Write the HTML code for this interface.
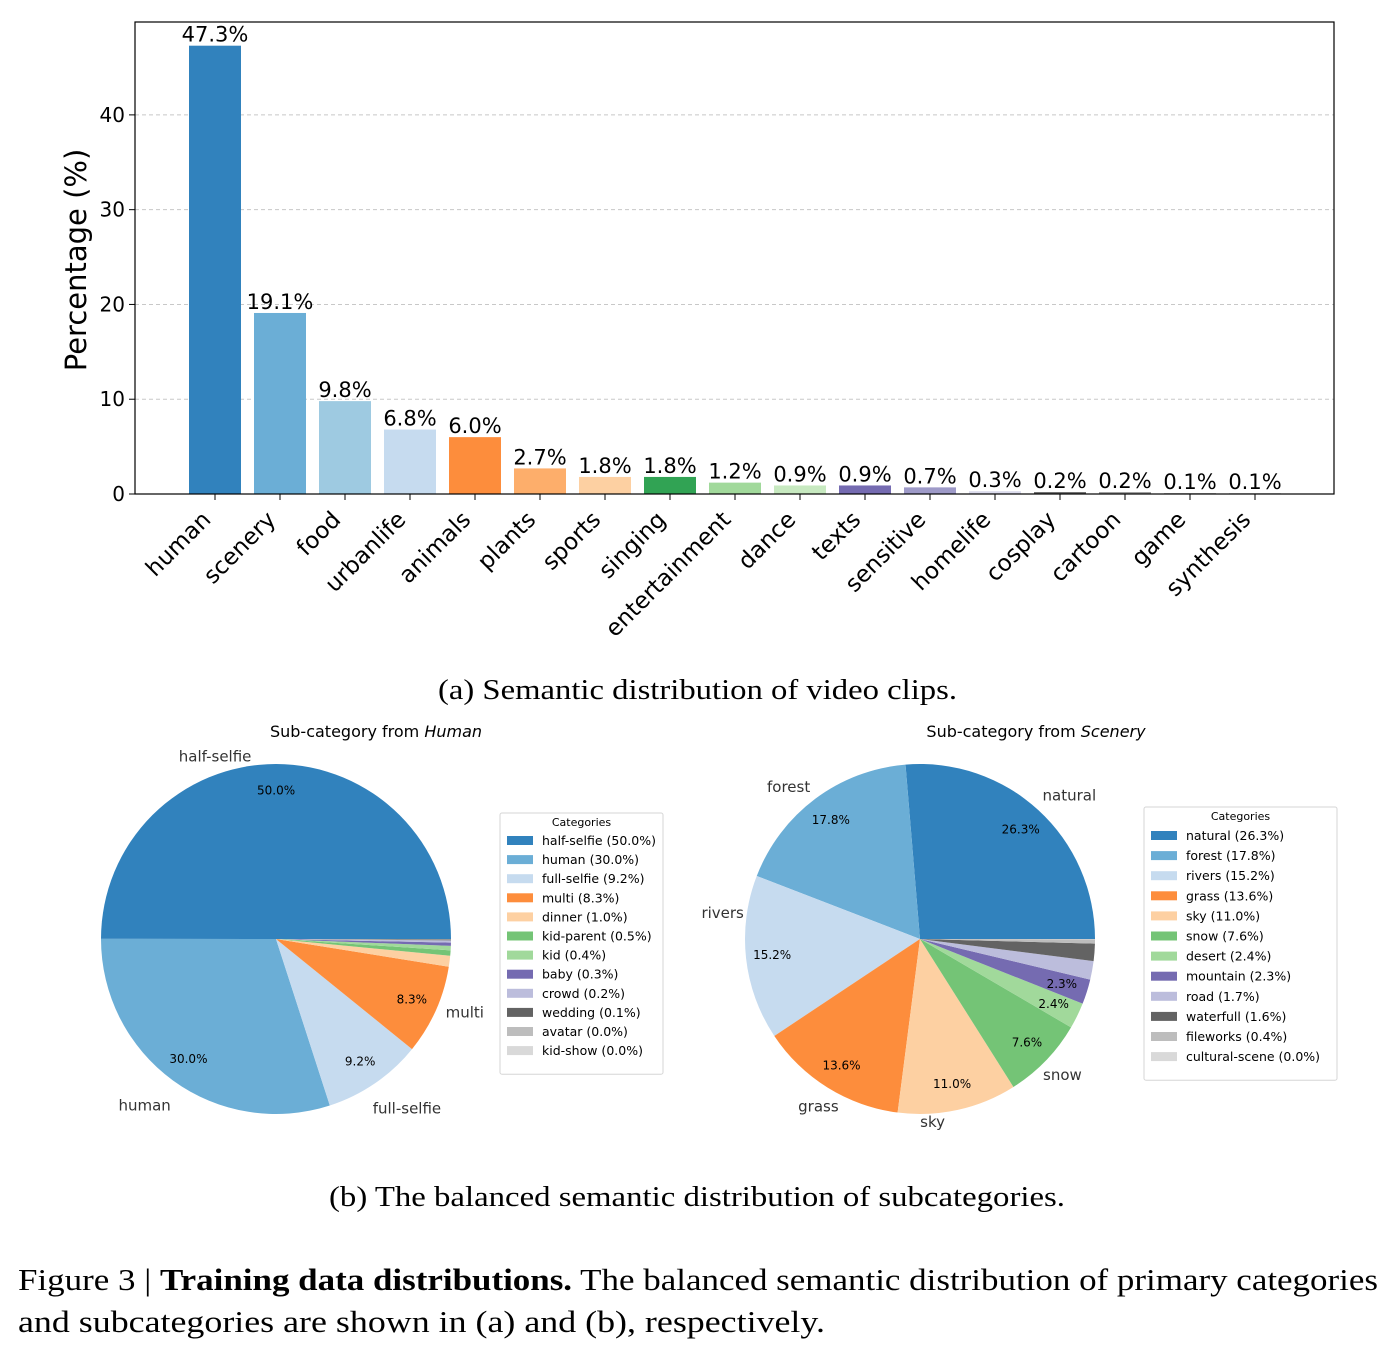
<!DOCTYPE html>
<html><head><meta charset="utf-8"><style>
body{margin:0;background:#fff;}
svg{display:block;font-family:"DejaVu Sans","Liberation Sans",sans-serif;}
.serif{font-family:"Liberation Serif",serif;}
</style></head><body>
<svg id="fig" width="1394" height="1356" viewBox="0 0 1394 1356" xmlns="http://www.w3.org/2000/svg">
<g id="bar"></g>
<g id="pie1"></g>
<g id="pie2"></g>
<text class="serif" x="438" y="699" font-size="28" textLength="519" lengthAdjust="spacingAndGlyphs">(a) Semantic distribution of video clips.</text>
<text class="serif" x="329" y="1206" font-size="28" textLength="736" lengthAdjust="spacingAndGlyphs">(b) The balanced semantic distribution of subcategories.</text>
<text class="serif" x="18" y="1290" font-size="31" textLength="1360" lengthAdjust="spacingAndGlyphs">Figure 3 | <tspan font-weight="bold">Training data distributions.</tspan> The balanced semantic distribution of primary categories</text>
<text class="serif" x="18" y="1332" font-size="31" textLength="807" lengthAdjust="spacingAndGlyphs">and subcategories are shown in (a) and (b), respectively.</text>
</svg>
<script>
const barCategories=["human","scenery","food","urbanlife","animals","plants","sports","singing","entertainment","dance","texts","sensitive","homelife","cosplay","cartoon","game","synthesis"];
const barValues=[47.3,19.1,9.8,6.8,6.0,2.7,1.8,1.8,1.2,0.9,0.9,0.7,0.3,0.2,0.2,0.1,0.1];
const yTicks=[0,10,20,30,40];
const barColors=["#3182bd","#6baed6","#9ecae1","#c6dbef","#fd8d3c","#fdae6b","#fdd0a2","#31a354","#a1d99b","#c7e9c0","#756bb1","#9e9ac8","#dadaeb","#636363","#969696","#bdbdbd","#d9d9d9"];

const humanCats=["half-selfie","human","full-selfie","multi","dinner","kid-parent","kid","baby","crowd","wedding","avatar","kid-show"];
const humanVals=[50.0,30.0,9.2,8.3,1.0,0.5,0.4,0.3,0.2,0.1,0.02,0.01];
const humanPct=["50.0%","30.0%","9.2%","8.3%","1.0%","0.5%","0.4%","0.3%","0.2%","0.1%","0.0%","0.0%"];
const humanColors=["#3182bd","#6baed6","#c6dbef","#fd8d3c","#fdd0a2","#74c476","#a1d99b","#756bb1","#bcbddc","#636363","#bdbdbd","#d9d9d9"];

const sceneryCats=["natural","forest","rivers","grass","sky","snow","desert","mountain","road","waterfull","fileworks","cultural-scene"];
const sceneryVals=[26.3,17.8,15.2,13.6,11.0,7.6,2.4,2.3,1.7,1.6,0.4,0.02];
const sceneryPct=["26.3%","17.8%","15.2%","13.6%","11.0%","7.6%","2.4%","2.3%","1.7%","1.6%","0.4%","0.0%"];
const sceneryColors=humanColors;

// label placement nudges (layout only)
const labelNudge={"half-selfie":[-61,10],"human":[-18,11],"full-selfie":[22,11],"multi":[13,-5],
 "natural":[19,-2],"forest":[-16,2],"rivers":[-6,-47],"grass":[0,4],"sky":[-29,-5],"snow":[4,2]};

const NS="http://www.w3.org/2000/svg";
function mk(p,tag,attrs,txt){const e=document.createElementNS(NS,tag);for(const k in attrs)e.setAttribute(k,attrs[k]);if(txt!=null)e.textContent=txt;p.appendChild(e);return e;}

const bar=document.getElementById('bar');
const L=135,R=1334,T=22,B=494,yMax=49.8;
const y=v=>B-(v/yMax)*(B-T);
const step=65,x0=215,bw=52;
const x=i=>x0+i*step;
yTicks.forEach(t=>{
  if(t>0){const g=mk(bar,'line',{x1:L,x2:R,y1:y(t),y2:y(t),stroke:'#c8c8c8','stroke-dasharray':'4,3','stroke-width':1});
  
  }
  mk(bar,'line',{x1:L-6,x2:L,y1:y(t),y2:y(t),stroke:'#000'});
  const tl=mk(bar,'text',{x:L-10,y:y(t)+7,'text-anchor':'end','font-size':20},String(t));
  
  
});
barCategories.forEach((c,i)=>{
  const r=mk(bar,'rect',{x:x(i)-bw/2,y:y(barValues[i]),width:bw,height:B-y(barValues[i]),fill:barColors[i]});
  
  
  const v=mk(bar,'text',{x:x(i),y:y(barValues[i])-4,'text-anchor':'middle','font-size':21},barValues[i].toFixed(1)+'%');
  
  
  mk(bar,'line',{x1:x(i),x2:x(i),y1:B,y2:B+6,stroke:'#000'});
  const t=mk(bar,'text',{x:0,y:0,'text-anchor':'end','font-size':23,transform:`translate(${x(i)-3},${B+27}) rotate(-45)`},c);
  
  
});
const fr=mk(bar,'rect',{x:L,y:T,width:R-L,height:B-T,fill:'none',stroke:'#000','stroke-width':1.2});


const yt=mk(bar,'text',{x:0,y:0,'text-anchor':'middle','font-size':29,transform:'translate(86,260) rotate(-90)'},'Percentage (%)');



function pie(g,cx,cy,r,cats,vals,pcts,cols,title,titleX,legend){
  const tot=vals.reduce((a,b)=>a+b,0);
  let a=0;
  const tt=mk(g,'text',{x:titleX,y:737,'text-anchor':'middle','font-size':16});
  
  
  mk(tt,'tspan',{},'Sub-category from ');mk(tt,'tspan',{'font-style':'italic'},title);
  cats.forEach((c,i)=>{
    const frac=vals[i]/tot,a1=a,a2=a+frac*2*Math.PI;a=a2;
    const p1=[cx+r*Math.cos(a1),cy-r*Math.sin(a1)],p2=[cx+r*Math.cos(a2),cy-r*Math.sin(a2)];
    const large=(a2-a1)>Math.PI?1:0;
    const s=mk(g,'path',{d:`M${cx},${cy} L${p1[0]},${p1[1]} A${r},${r} 0 ${large} 0 ${p2[0]},${p2[1]} Z`,fill:cols[i]});
    
    
    const m=(a1+a2)/2,pct=frac*100;
    if(pct>=2){
      const pt=mk(g,'text',{x:cx+0.85*r*Math.cos(m),y:cy-0.85*r*Math.sin(m)+4,'text-anchor':'middle','font-size':12},pcts[i]);
      
      
    }
    if(pct>=5){
      const n=labelNudge[c]||[0,0];
      const lx=cx+1.1*r*Math.cos(m)+n[0],ly=cy-1.1*r*Math.sin(m)+n[1];
      const lt=mk(g,'text',{x:lx,y:ly+5,'text-anchor':'middle','font-size':15,fill:'#333'},c);
      
      
    }
  });
  const [lx,ly,lw,rowH,first]=legend;
  const h=32+rowH*cats.length;
  const box=mk(g,'rect',{x:lx,y:ly,width:lw,height:h,fill:'#fff',stroke:'#d6d6d6',rx:2});
  
  
  const lt=mk(g,'text',{x:lx+lw/2,y:ly+13,'text-anchor':'middle','font-size':11},'Categories');
  
  
  cats.forEach((c,i)=>{
    const yy=ly+first+i*rowH;
    mk(g,'rect',{x:lx+7,y:yy-5,width:26,height:9,fill:cols[i]});
    const e=mk(g,'text',{x:lx+42,y:yy+4,'font-size':12.5},`${c} (${pcts[i]})`);
    
    
  });
}
pie(document.getElementById('pie1'),276,939,175,humanCats,humanVals,humanPct,humanColors,'Human',376,[500,813,163,19.1,28]);
pie(document.getElementById('pie2'),920,939,175,sceneryCats,sceneryVals,sceneryPct,sceneryColors,'Scenery',1036,[1144,807,193,20.1,29]);
</script>
</body></html>
